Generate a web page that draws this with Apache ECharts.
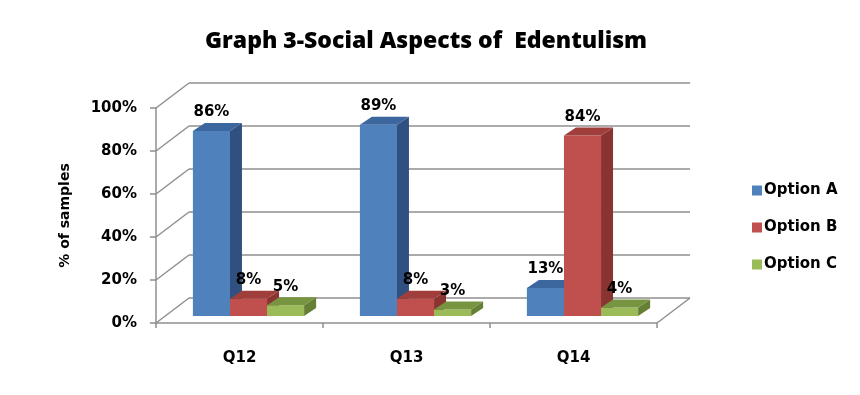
<!DOCTYPE html>
<html><head><meta charset="utf-8">
<script src="https://cdn.jsdelivr.net/npm/echarts@6/dist/echarts.min.js"></script>
<style>html,body{margin:0;padding:0;background:#fff}#c{width:860px;height:395px}</style>
</head><body><div id="c"></div>
<script>
const categories = ['Q12', 'Q13', 'Q14'];
const seriesNames = ['Option A', 'Option B', 'Option C'];
const optionA = [0.86, 0.89, 0.13];
const optionB = [0.08, 0.08, 0.84];
const optionC = [0.05, 0.03, 0.04];
const yTicks = [0, 0.2, 0.4, 0.6, 0.8, 1.0];

const palettes = [
  {front:'#4F81BD', top:'#3C679E', side:'#2F5080'},
  {front:'#C0504D', top:'#A03E3B', side:'#8A3431'},
  {front:'#9BBB59', top:'#779540', side:'#657F35'}
];
const WALL_DX = 33, WALL_DY = 25;
const BAR_DX = 9, BAR_DY = 7, SIDE_DX = 12, SIDE_DY = 8;
const BAR_RATIO = 0.222;
const SANS = '"DejaVu Sans"';
const LABEL_FONT = 'bold 15px ' + SANS;

function barRender(sIdx) {
  const pal = palettes[sIdx];
  return function (params, api) {
    const cat = api.value(0), v = api.value(1);
    const base = api.coord([cat, 0]);
    const top = api.coord([cat, v]);
    const band = api.size([1, 0])[0];
    const bw = band * BAR_RATIO;
    const x0 = base[0] - 1.5 * bw + sIdx * bw + BAR_DX;
    const x1 = x0 + bw;
    const yb = base[1] - BAR_DY;
    const yt = top[1] - BAR_DY;
    return {
      type: 'group',
      children: [
        {type: 'rect', shape: {x: x0, y: yt, width: bw, height: yb - yt}, style: {fill: pal.front}},
        {type: 'polygon', shape: {points: [[x1, yt], [x1 + SIDE_DX, yt - SIDE_DY], [x1 + SIDE_DX, yb - SIDE_DY], [x1, yb]]}, style: {fill: pal.side}},
        {type: 'polygon', shape: {points: [[x0, yt], [x0 + SIDE_DX, yt - SIDE_DY], [x1 + SIDE_DX, yt - SIDE_DY], [x1, yt]]}, style: {fill: pal.top}},
        {type: 'text', z2: 100, style: {text: Math.round(v * 100) + '%', x: (x0 + x1) / 2, y: yt - SIDE_DY - 3, textAlign: 'center', textVerticalAlign: 'bottom', font: LABEL_FONT, fill: '#000'}}
      ]
    };
  };
}

function wallRender(params, api) {
  const v = api.value(0);
  const p = api.coord([0, v]);
  const cs = params.coordSys;
  const x = cs.x;
  const children = [{type: 'line', shape: {x1: x, y1: p[1], x2: x + WALL_DX, y2: p[1] - WALL_DY}, style: {stroke: '#8f8f8f', lineWidth: 1.5}}];
  if (v === 0) {
    const xr = cs.x + cs.width;
    children.push({type: 'line', shape: {x1: xr, y1: p[1], x2: xr + WALL_DX, y2: p[1] - WALL_DY}, style: {stroke: '#8f8f8f', lineWidth: 1.5}});
  }
  return {type: 'group', children: children};
}

const FRONT = {left: 156, right: 203, top: 108, bottom: 72};
const data = [optionA, optionB, optionC];

const chart = echarts.init(document.getElementById('c'), null, {renderer: 'canvas'});
chart.setOption({
  animation: false,
  backgroundColor: '#fff',
  title: {
    text: 'Graph 3-Social Aspects of  Edentulism',
    left: 421, textAlign: 'center', top: 25,
    textStyle: {fontFamily: '"Open Sans"', fontWeight: 800, fontSize: 23, color: '#000'}
  },
  legend: {
    orient: 'vertical', left: 747, top: 178,
    itemWidth: 10, itemHeight: 10, itemGap: 22, icon: 'rect',
    textStyle: {fontFamily: SANS, fontWeight: 'bold', fontSize: 15, color: '#000', padding: [0, 0, 0, -3]},
    data: seriesNames
  },
  grid: [
    {left: FRONT.left, right: FRONT.right, top: FRONT.top, bottom: FRONT.bottom},
    {left: FRONT.left + WALL_DX, right: FRONT.right - WALL_DX, top: FRONT.top - WALL_DY, bottom: FRONT.bottom + WALL_DY}
  ],
  xAxis: [
    {type: 'category', gridIndex: 0, data: categories, boundaryGap: true,
     axisLine: {show: true, lineStyle: {color: '#8f8f8f', width: 1.5}},
     axisTick: {show: true, length: 5, lineStyle: {color: '#8f8f8f', width: 1.5}},
     axisLabel: {margin: 28, fontFamily: SANS, fontWeight: 'bold', fontSize: 15, color: '#000'}},
    {type: 'category', gridIndex: 1, data: categories, show: false}
  ],
  yAxis: [
    {type: 'value', gridIndex: 0, min: 0, max: 1, interval: 0.2,
     name: '% of samples', nameLocation: 'middle', nameGap: 84,
     nameTextStyle: {fontFamily: SANS, fontWeight: 'bold', fontSize: 14, color: '#000'},
     axisLine: {show: true, lineStyle: {color: '#8f8f8f', width: 1.5}},
     axisTick: {show: true, length: 6, lineStyle: {color: '#8f8f8f', width: 1.5}},
     splitLine: {show: false},
     axisLabel: {margin: 19, formatter: v => Math.round(v * 100) + '%', fontFamily: SANS, fontWeight: 'bold', fontSize: 15, color: '#000'}},
    {type: 'value', gridIndex: 1, min: 0, max: 1, interval: 0.2,
     axisLine: {show: false}, axisTick: {show: false}, axisLabel: {show: false},
     splitLine: {show: true, lineStyle: {color: '#8f8f8f', width: 1.5}}}
  ],
  series: [
    {type: 'custom', name: 'wall', xAxisIndex: 0, yAxisIndex: 0, z: 1, silent: true,
     renderItem: wallRender, data: yTicks.map(v => [v]), encode: {y: 0}}
  ].concat(data.map((arr, s) => ({
    type: 'custom', name: seriesNames[s], xAxisIndex: 0, yAxisIndex: 0,
    itemStyle: {color: palettes[s].front},
    renderItem: barRender(s),
    encode: {x: 0, y: 1},
    data: arr.map((v, i) => [i, v])
  })))
});
</script></body></html>
